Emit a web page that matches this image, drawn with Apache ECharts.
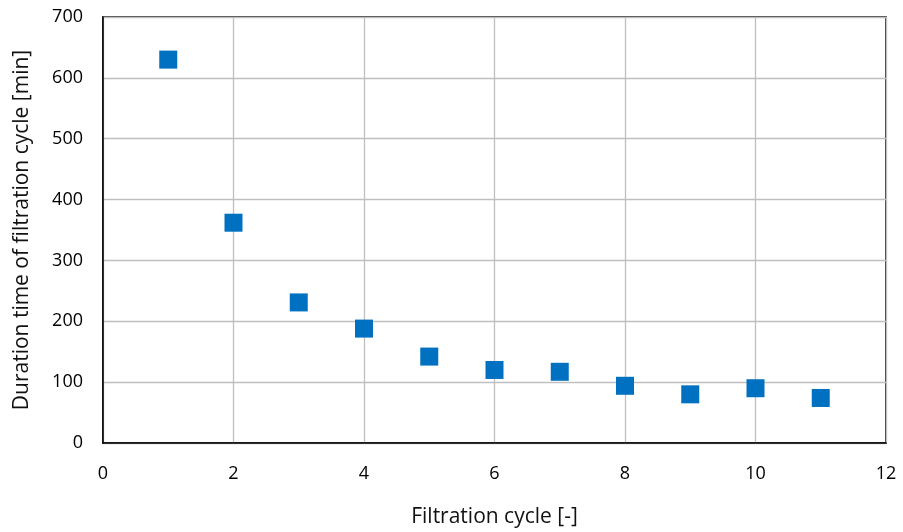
<!DOCTYPE html>
<html><head><meta charset="utf-8">
<script src="https://cdn.jsdelivr.net/npm/echarts@6/dist/echarts.min.js"></script>
<style>html,body{margin:0;padding:0;background:#fff}#c{width:903px;height:532px}</style>
</head><body><div id="c"></div>
<script>
const cycles = [1, 2, 3, 4, 5, 6, 7, 8, 9, 10, 11];
const durations = [630, 362, 231, 188, 142, 120, 117, 94, 80, 90, 74];
const xTitle = 'Filtration cycle [-]';
const yTitle = 'Duration time of filtration cycle [min]';
const font = 'Open Sans';
const chart = echarts.init(document.getElementById('c'), null, {renderer: 'canvas'});
chart.setOption({
  animation: false,
  grid: {left: 103, top: 17, right: 17, bottom: 89, outerBoundsMode: 'none', containLabel: false, show: true, borderColor: '#000', borderWidth: 1.5, backgroundColor: 'transparent'},
  xAxis: {
    type: 'value', min: 0, max: 12, interval: 2,
    name: xTitle, nameLocation: 'middle', nameGap: 64,
    nameTextStyle: {color: '#111', fontSize: 21, fontFamily: font},
    axisLine: {show: true, lineStyle: {color: '#000', width: 1.5}},
    axisTick: {show: false},
    axisLabel: {color: '#000', fontSize: 18, fontFamily: font, margin: 22},
    splitLine: {show: true, lineStyle: {color: '#BFBFBF', width: 1.3}}
  },
  yAxis: {
    type: 'value', min: 0, max: 700, interval: 100,
    name: yTitle, nameLocation: 'middle', nameGap: 70,
    nameTextStyle: {color: '#111', fontSize: 21, fontFamily: font},
    axisLine: {show: true, lineStyle: {color: '#000', width: 1.5}},
    axisTick: {show: false},
    axisLabel: {color: '#000', fontSize: 18, fontFamily: font, margin: 20},
    splitLine: {show: true, lineStyle: {color: '#BFBFBF', width: 1.3}}
  },
  series: [{
    type: 'scatter',
    symbol: 'rect',
    symbolSize: 18,
    itemStyle: {color: '#0070C0', opacity: 1},
    data: cycles.map((c, i) => [c, durations[i]])
  }]
});
</script></body></html>
